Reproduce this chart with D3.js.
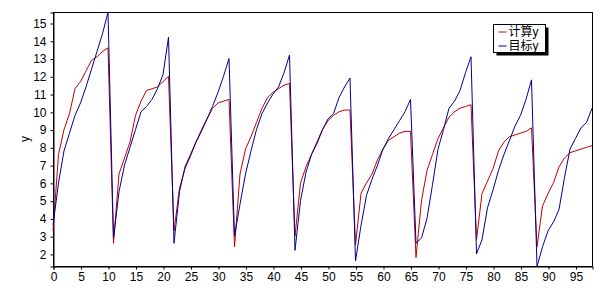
<!DOCTYPE html>
<html lang="zh">
<head>
    <meta charset="UTF-8">
    <title>计算y / 目标y</title>
    <script src="https://cdn.jsdelivr.net/npm/d3@7"></script>
    <style>
        body { margin: 0; background: #ffffff; }
        svg text { font-family: "Liberation Sans", Arial, sans-serif; font-size: 12px; fill: #000; }
    </style>
</head>
<body>
    <div id="canvas"></div>
    <script>

        // series, one value per x step (x = 0..98)
        const calcY = [
            3.3, 7.6, 9.0, 9.9, 11.3, 11.7, 12.3, 12.9, 13.1, 13.4, 13.6,
            2.6, 6.5, 7.4, 8.3, 9.8, 10.6, 11.2, 11.3, 11.4, 11.7, 12.0,
            3.3, 5.7, 6.8, 7.5, 8.3, 9.0, 9.6, 10.2, 10.5, 10.6, 10.7,
            2.4, 6.5, 7.9, 8.6, 9.4, 10.2, 10.8, 11.1, 11.3, 11.5, 11.6,
            3.0, 6.0, 6.9, 7.6, 8.2, 9.0, 9.5, 9.8, 10.0, 10.1, 10.1,
            2.5, 5.4, 6.0, 6.5, 7.3, 7.9, 8.4, 8.6, 8.8, 8.9, 8.9,
            1.8, 5.0, 6.7, 7.6, 8.5, 9.1, 9.7, 10.0, 10.2, 10.3, 10.4,
            2.8, 5.4, 6.1, 6.8, 7.8, 8.3, 8.6, 8.7, 8.8, 8.9, 9.1,
            2.4, 4.7, 5.4, 6.0, 6.9, 7.4, 7.7, 7.8, 7.9, 8.0, 8.1
        ];
        const targetY = [
            3.6, 6.0, 7.8, 8.8, 9.8, 10.5, 11.4, 12.4, 13.4, 14.4, 15.6,
            2.9, 5.5, 7.0, 8.0, 9.0, 10.0, 10.3, 10.7, 11.3, 12.1, 14.2,
            2.6, 5.5, 6.9, 7.6, 8.3, 8.9, 9.6, 10.3, 11.1, 12.0, 13.0,
            3.0, 4.8, 6.5, 7.8, 9.0, 9.9, 10.5, 11.0, 11.4, 12.2, 13.2,
            2.2, 5.0, 6.6, 7.6, 8.3, 9.0, 9.6, 9.9, 10.8, 11.4, 11.9,
            1.6, 3.6, 5.3, 6.2, 7.0, 7.9, 8.5, 9.0, 9.5, 10.0, 10.7,
            2.6, 2.9, 4.0, 5.9, 7.9, 9.0, 10.2, 10.6, 11.2, 12.2, 13.1,
            2.0, 2.8, 4.6, 5.6, 6.7, 7.6, 8.4, 9.2, 9.8, 10.7, 11.8,
            1.3, 2.4, 3.3, 3.8, 4.5, 6.3, 7.9, 8.5, 9.1, 9.4, 10.2
        ];
        const xTicks = d3.range(0, 100, 5);
        const yTicks = d3.range(2, 16, 1);
        const seriesNames = ['计算y', '目标y'];
        const seriesColors = ['#c00000', '#000090'];

        const width = 609;
        const height = 298;
        const margin = { top: 12, right: 17, bottom: 32, left: 53 };

        const svg = d3.select('#canvas')
            .append('svg')
            .attr('width', width)
            .attr('height', height);

        const x = d3.scaleLinear()
            .domain([0, 98])
            .range([margin.left, width - margin.right]);

        const y = d3.scaleLinear()
            .domain([1.32, 15.62])
            .range([height - margin.bottom, margin.top]);

        // frame
        svg.append('rect')
            .attr('x', margin.left + 0.5)
            .attr('y', margin.top + 0.5)
            .attr('width', width - margin.left - margin.right)
            .attr('height', height - margin.top - margin.bottom)
            .attr('fill', 'none')
            .attr('stroke', '#000');

        const xAxis = svg.append('g')
            .attr('transform', `translate(0.5, ${height - margin.bottom + 0.5})`)
            .call(d3.axisBottom(x).tickValues(xTicks).tickSize(3).tickPadding(3));

        const yAxis = svg.append('g')
            .attr('transform', `translate(${margin.left + 0.5}, 0.5)`)
            .call(d3.axisLeft(y).tickValues(yTicks).tickSize(3).tickPadding(4));

        [xAxis, yAxis].forEach(g => {
            g.select('.domain').attr('stroke', '#000');
            g.selectAll('text').attr('font-size', 12).attr('font-family', '"Liberation Sans", Arial, sans-serif');
        });

        svg.append('text')
            .attr('transform', `translate(29, ${(margin.top + height - margin.bottom) / 2}) rotate(-90)`)
            .attr('text-anchor', 'middle')
            .text('y');

        const line = d3.line()
            .x((d, i) => x(i))
            .y(d => y(d));

        [calcY, targetY].forEach((values, k) => {
            svg.append('path')
                .datum(values)
                .attr('fill', 'none')
                .attr('stroke', seriesColors[k])
                .attr('stroke-width', 1)
                .attr('d', line);
        });

        // legend with drop shadow
        const legend = svg.append('g').attr('transform', 'translate(493.5, 24.5)');
        legend.append('rect')
            .attr('x', 3).attr('y', 3)
            .attr('width', 52).attr('height', 28)
            .attr('fill', '#000');
        legend.append('rect')
            .attr('width', 52).attr('height', 28)
            .attr('fill', '#fff')
            .attr('stroke', '#000');

        seriesNames.forEach((name, k) => {
            const row = legend.append('g').attr('transform', `translate(0, ${7.5 + k * 14})`);
            row.append('line')
                .attr('x1', 5).attr('x2', 13)
                .attr('stroke', seriesColors[k]);
            row.append('text')
                .attr('x', 15)
                .attr('dy', '0.35em')
                .style('font-family', '"Liberation Sans", "Noto Sans CJK SC", sans-serif')
                .style('font-size', '12px')
                .text(name);
        });

    </script>
</body>
</html>
